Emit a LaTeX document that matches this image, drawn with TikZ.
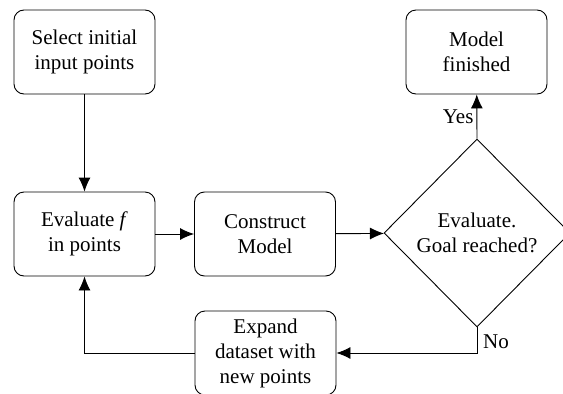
\documentclass[tikz,border=0pt]{standalone}
\usepackage{fontspec}
\setmainfont{Liberation Serif}
\usetikzlibrary{shapes.geometric,arrows.meta}
\begin{document}
\begin{tikzpicture}[x=1pt,y=-1pt,
  font=\fontsize{21}{25}\selectfont,
  procbox/.style={draw,line width=0.9pt,rounded corners=10pt,minimum width=141pt,minimum height=84pt,align=center,inner sep=0pt},
  decbox/.style={draw,line width=0.9pt,shape=diamond,aspect=1,minimum width=186pt,minimum height=188pt,align=center,inner sep=0pt},
  conn/.style={line width=0.9pt,-{Latex[length=14pt,width=12pt]}}]
\useasboundingbox (0,0) rectangle (563,394);
\node[procbox] (sel) at (84.5,52) {Select initial\\input points};
\node[procbox] (evf) at (84.5,234) {Evaluate \textit{f}\\in points};
\node[procbox] (con) at (265,234) {Construct\\Model};
\node[decbox] (goal) at (477,233) {Evaluate.\\Goal reached?};
\node[procbox] (fin) at (476.5,52) {Model\\finished};
\node[procbox] (exp) at (265.5,353) {Expand\\dataset with\\new points};
\coordinate (c1) at (477,353);
\coordinate (c2) at (84.5,353);
\draw[conn] (sel) -- (evf);
\draw[conn] (evf) -- (con);
\draw[conn] (con) -- (goal);
\draw[conn] (goal.north) -- node[left,inner sep=3pt]{Yes} (fin);
\draw[conn] (goal.south) -- (c1) -- (exp);
\node[anchor=west,inner sep=0pt] (no) at (483,342) {No};
\draw[conn] (exp.west) -- (c2) -- (evf.south);
\end{tikzpicture}
\end{document}
